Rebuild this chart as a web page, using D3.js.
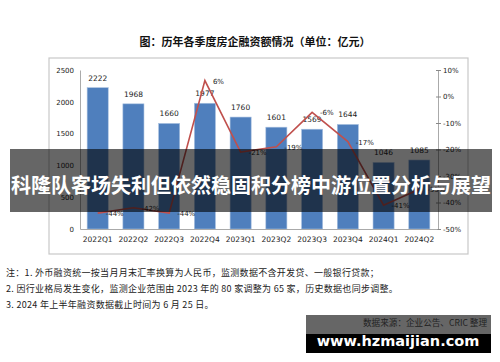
<!DOCTYPE html>
<html>
<head>
<meta charset="utf-8">
<script src="https://cdn.jsdelivr.net/npm/d3@7"></script>
<style>
  body { margin: 0; background: #fff; }
  svg { display: block; }
</style>
</head>
<body>
<script>
var quarters = ["2022Q1", "2022Q2", "2022Q3", "2022Q4", "2023Q1", "2023Q2", "2023Q3", "2023Q4", "2024Q1", "2024Q2"];
var amounts = [2222, 1968, 1660, 1977, 1760, 1601, 1569, 1644, 1046, 1085];
var growth = [-44, -42, -44, 6, -21, -19, -6, -17, -41, -35];
var leftTicks = [0, 500, 1000, 1500, 2000, 2500];
var rightTicks = [-50, -40, -30, -20, -10, 0, 10];
var notes = [
  "注：1. 外币融资统一按当月月末汇率换算为人民币，监测数据不含开发贷、一般银行贷款；",
  "2. 因行业格局发生变化，监测企业范围由 2023 年的 80 家调整为 65 家，历史数据也同步调整。",
  "3. 2024 年上半年融资数据截止时间为 6 月 25 日。"
];

var cjk = "'Noto Sans CJK SC', sans-serif";
var num = "'DejaVu Sans', sans-serif";

var svg = d3.select("body").append("svg").attr("width", 500).attr("height", 362);

// title
svg.append("text").attr("x", 255).attr("y", 46).attr("text-anchor", "middle")
  .attr("font-family", cjk).attr("font-weight", "bold").attr("font-size", 11)
  .attr("fill", "#111").text("图：历年各季度房企融资额情况（单位：亿元）");

// chart frame
svg.append("rect").attr("x", 49).attr("y", 58).attr("width", 419).attr("height", 196)
  .attr("fill", "none").attr("stroke", "#c8c8c8").attr("stroke-width", 1.2);

var x = d3.scaleBand().domain(quarters).range([80, 437]).paddingInner(0.41).paddingOuter(0.2);
var yL = d3.scaleLinear().domain([0, 2500]).range([229, 70]);
var yR = d3.scaleLinear().domain([-50, 10]).range([229, 70]);

// left axis
var gl = svg.append("g").attr("transform", "translate(80,0)")
  .call(d3.axisLeft(yL).tickValues(leftTicks).tickFormat(function(d) { return String(d); }).tickSize(0).tickPadding(6));
gl.select(".domain").attr("stroke", "#aaa");
gl.selectAll("text").attr("font-family", num).attr("font-size", 7).attr("fill", "#222");

// right axis
var gr = svg.append("g").attr("transform", "translate(438,0)")
  .call(d3.axisRight(yR).tickValues(rightTicks).tickFormat(function(d) { return d + "%"; }).tickSize(3).tickPadding(2));
gr.select(".domain").attr("stroke", "#aaa");
gr.selectAll("line").attr("stroke", "#888").attr("x1", -2);
gr.selectAll("text").attr("font-family", num).attr("font-size", 7).attr("fill", "#222");

// bars
svg.selectAll("rect.bar").data(amounts).enter().append("rect").attr("class", "bar")
  .attr("x", function(d, i) { return x(quarters[i]); })
  .attr("y", function(d) { return yL(d); })
  .attr("width", x.bandwidth())
  .attr("height", function(d) { return yL(0) - yL(d); })
  .attr("fill", "#4f7fbd").attr("stroke", "#a9c1e0").attr("stroke-width", 0.6);

svg.selectAll("text.val").data(amounts).enter().append("text").attr("class", "val")
  .attr("x", function(d, i) { return x(quarters[i]) + x.bandwidth() / 2; })
  .attr("y", function(d) { return yL(d) - 7; })
  .attr("text-anchor", "middle").attr("font-family", num).attr("font-size", 7.5).attr("fill", "#222")
  .text(function(d) { return d; });

// x axis
var gx = svg.append("g").attr("transform", "translate(0,229)")
  .call(d3.axisBottom(x).tickSize(0).tickPadding(8));
gx.select(".domain").attr("stroke", "#aaa");
gx.selectAll("text").attr("font-family", num).attr("font-size", 7.5).attr("fill", "#222");

// growth line
var line = d3.line()
  .x(function(d, i) { return x(quarters[i]) + x.bandwidth() / 2; })
  .y(function(d) { return yR(d); });
svg.append("path").datum(growth).attr("d", line)
  .attr("fill", "none").attr("stroke", "#c0504d").attr("stroke-width", 1.6);

svg.selectAll("text.pct").data(growth).enter().append("text").attr("class", "pct")
  .attr("x", function(d, i) { return x(quarters[i]) + x.bandwidth() / 2 + 8; })
  .attr("y", function(d) { return yR(d) + 3; })
  .attr("font-family", num).attr("font-size", 7).attr("fill", "#222")
  .text(function(d) { return d + "%"; });

// footnotes
svg.selectAll("text.note").data(notes).enter().append("text").attr("class", "note")
  .attr("x", 6).attr("y", function(d, i) { return 276 + i * 16; })
  .attr("font-family", cjk).attr("font-size", 9).attr("letter-spacing", 0.3).attr("fill", "#222")
  .text(function(d) { return d; });

// source / watermark
svg.append("rect").attr("x", 306).attr("y", 315).attr("width", 185).attr("height", 38).attr("fill", "#000");
svg.append("rect").attr("x", 306).attr("y", 315).attr("width", 185).attr("height", 19).attr("fill", "#666");
svg.append("text").attr("x", 487).attr("y", 326).attr("text-anchor", "end")
  .attr("font-family", cjk).attr("font-size", 8.6).attr("fill", "#222")
  .text("数据来源：企业公告、CRIC 整理");
svg.append("text").attr("x", 398).attr("y", 346).attr("text-anchor", "middle")
  .attr("font-family", "'DejaVu Sans', sans-serif").attr("font-weight", "bold").attr("font-size", 14.5)
  .attr("fill", "#fff").text("www.hzmaijian.com");

// headline banner
svg.append("rect").attr("x", 10).attr("y", 149).attr("width", 482).attr("height", 63)
  .attr("fill", "#000").attr("fill-opacity", 0.6);
svg.append("text").attr("x", 251).attr("y", 193).attr("text-anchor", "middle")
  .attr("font-family", cjk).attr("font-weight", "bold").attr("font-size", 20)
  .attr("fill", "#fff").text("科隆队客场失利但依然稳固积分榜中游位置分析与展望");
</script>
</body>
</html>
